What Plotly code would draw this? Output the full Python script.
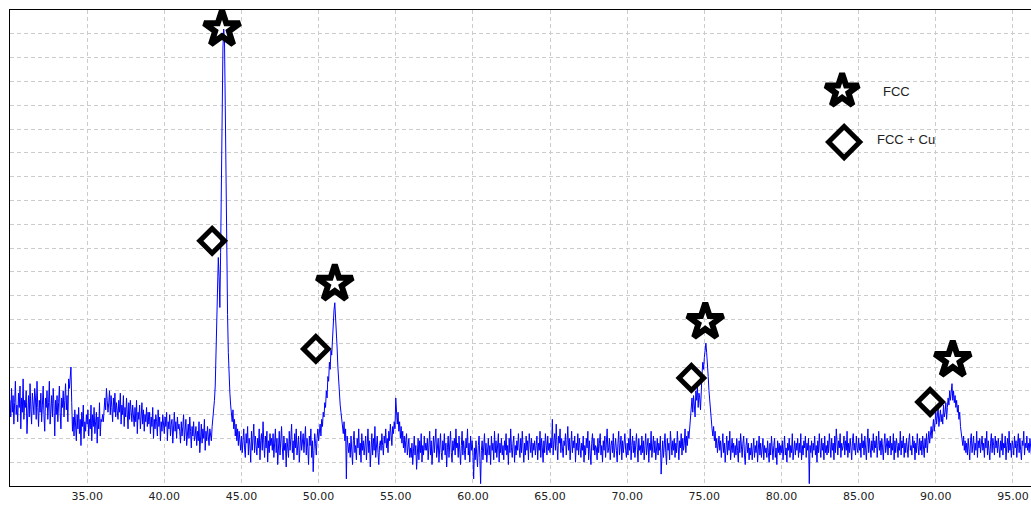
import numpy as np
import plotly.graph_objects as go

# 2-theta grid (step 0.05 deg, 30.00 .. 96.20)
two_theta_start = 30.0
two_theta_step = 0.05

# intensity (a.u.), one row per degree
intensity = [
    36,29,41,31,38,26,35,44,30,34,27,39,33,42,24,37,31,45,28,36,   # 30
    33,40,22,35,38,29,43,32,26,39,35,30,41,37,28,44,33,25,36,31,   # 31
    39,27,34,42,30,23,37,33,40,28,35,44,26,32,38,29,41,34,21,36,   # 32
    30,38,27,35,42,31,24,37,33,40,29,36,43,32,38,27,45,41,47,50,   # 33
    35,23,29,21,32,26,19,30,24,33,22,28,17,31,25,34,20,27,23,30,   # 34
    26,32,21,28,24,34,19,30,25,33,22,27,31,18,29,24,35,21,28,27,   # 35
    30,27,34,37,32,41,36,31,35,40,30,38,33,27,37,31,39,29,35,32,   # 36
    28,36,31,39,26,34,30,38,25,33,29,37,32,24,35,28,36,31,27,34,   # 37
    30,25,33,27,36,22,31,28,34,24,29,35,26,32,23,30,27,33,25,31,   # 38
    26,31,22,29,25,33,20,28,24,30,27,21,32,25,29,19,27,23,30,24,   # 39
    22,29,25,31,19,27,24,30,21,26,28,18,25,31,23,27,20,29,24,26,   # 40
    23,18,27,21,25,30,19,24,28,17,22,26,20,29,23,16,25,21,27,19,   # 41
    21,25,17,23,19,27,14,22,26,18,24,20,28,15,23,19,25,21,17,24,   # 42
    22,19,25,28,31,36,42,55,78,92,96,88,75,98,135,165,184,192,188,160,  # 43
    125,95,72,56,45,39,34,30,27,32,24,28,21,26,19,24,17,23,20,15,  # 44
    21,14,19,24,16,12,22,18,25,13,20,17,10,23,15,19,26,14,21,17,   # 45
    13,20,16,24,11,19,22,15,27,18,12,21,16,23,10,19,14,22,17,20,   # 46
    15,22,12,18,24,14,20,9,17,23,13,19,25,16,11,21,15,18,8,20,     # 47
    17,12,23,15,20,26,14,19,11,22,16,24,13,18,21,10,17,23,15,19,   # 48
    22,14,18,25,13,20,16,9,21,17,24,12,19,6,15,22,18,13,20,24,     # 49
    19,23,26,21,28,25,31,29,35,33,40,37,46,44,52,49,57,55,63,70,   # 50
    74,77,72,65,58,50,43,39,34,31,28,25,22,27,19,24,3,21,17,14,    # 51
    18,12,21,15,9,19,23,14,17,11,20,16,24,13,18,10,22,15,19,13,    # 52
    16,21,11,18,24,14,19,8,17,22,13,20,15,25,12,18,21,14,9,17,     # 53
    19,15,22,17,13,21,18,24,16,20,14,23,19,26,21,17,25,22,27,24,   # 54
    37,29,26,31,23,27,20,25,18,23,16,21,14,19,22,13,17,20,12,16,   # 55
    12,18,9,15,21,13,17,7,16,20,11,19,14,22,10,17,13,21,15,18,     # 56
    15,20,11,17,23,13,19,9,16,21,14,18,24,12,17,20,10,15,22,14,    # 57
    11,19,15,22,13,18,8,16,21,12,17,23,14,10,19,15,20,13,24,16,    # 58
    18,12,21,14,9,17,23,13,19,15,11,20,16,24,13,18,10,21,15,19,    # 59
    14,3,16,11,19,13,8,17,21,12,1,15,19,11,17,22,13,18,10,16,      # 60
    20,13,17,9,21,15,18,11,23,14,19,12,16,22,10,18,14,20,13,17,    # 61
    11,19,15,22,13,17,9,20,14,24,16,12,18,21,10,17,13,19,15,22,    # 62
    16,12,20,14,23,17,10,18,13,21,15,19,11,22,16,14,20,12,18,15,   # 63
    19,13,17,21,11,18,15,23,12,20,16,10,19,14,22,17,13,21,15,18,   # 64
    14,20,16,28,13,19,22,15,26,17,11,21,18,24,14,20,16,12,19,17,   # 65
    22,13,18,25,15,20,11,17,23,14,19,16,21,10,18,15,22,13,20,16,   # 66
    12,18,15,21,10,17,13,20,16,23,11,19,14,9,18,22,15,20,13,17,    # 67
    16,11,20,14,18,22,13,17,10,19,15,21,12,18,24,14,16,20,11,17,   # 68
    19,14,22,12,17,20,15,10,18,23,13,16,21,11,19,14,17,22,15,12,   # 69
    18,13,20,15,24,11,17,21,14,19,12,18,22,16,10,20,15,17,13,21,   # 70
    14,19,11,17,22,13,16,20,10,18,15,23,12,17,21,14,19,11,16,20,   # 71
    13,18,15,21,5,16,19,12,17,22,14,9,20,15,18,11,23,16,13,19,     # 72
    15,20,12,18,14,23,17,11,19,16,22,13,20,15,18,24,14,21,17,23,   # 73
    20,25,28,33,37,31,38,34,29,40,36,42,33,39,37,32,44,47,52,49,   # 74
    54,57,60,56,52,46,40,35,30,27,24,21,25,19,23,16,20,14,18,21,   # 75
    15,19,12,17,22,14,18,10,16,21,13,19,15,23,11,17,20,14,18,12,   # 76
    17,13,20,15,10,19,14,22,16,12,18,21,13,9,17,20,14,18,11,16,    # 77
    13,18,11,16,20,12,17,14,19,10,15,21,13,18,12,16,20,11,17,14,   # 78
    16,12,19,14,10,18,13,21,15,11,17,20,12,16,9,19,14,18,13,17,    # 79
    14,19,11,17,21,13,16,10,18,15,20,12,17,14,22,11,16,19,13,18,   # 80
    15,20,12,18,14,22,11,17,13,19,16,21,12,18,15,20,1,17,14,19,    # 81
    12,18,15,21,13,17,10,19,14,22,16,12,20,15,18,11,21,14,17,13,   # 82
    19,14,22,16,12,20,15,18,11,21,14,24,17,13,19,16,22,12,18,15,   # 83
    17,21,13,19,15,23,12,18,14,20,16,11,19,22,15,18,13,21,16,14,   # 84
    20,15,18,12,22,16,19,13,21,17,11,18,24,14,20,16,12,19,15,22,   # 85
    14,19,16,21,12,17,23,15,19,13,20,16,11,18,22,14,17,20,13,19,   # 86
    16,21,13,18,15,22,11,19,14,20,17,12,18,15,23,13,19,16,21,12,   # 87
    18,14,20,16,12,19,22,15,17,13,21,16,19,11,18,14,22,17,13,20,   # 88
    15,19,13,21,17,12,20,16,22,14,19,23,18,21,25,20,24,28,23,27,   # 89
    31,26,29,33,25,28,32,27,30,26,34,29,31,35,28,33,37,34,40,36,   # 90
    39,43,36,40,35,38,33,36,31,34,28,31,25,22,19,17,21,15,19,14,   # 91
    18,13,20,16,11,19,22,14,17,21,13,18,15,23,12,19,16,20,14,17,   # 92
    21,15,18,12,20,16,23,13,19,15,11,18,22,14,20,17,13,21,16,19,   # 93
    14,20,17,12,19,15,22,13,18,16,21,11,17,20,14,23,15,18,12,19,   # 94
    17,13,21,16,19,12,18,22,14,20,15,11,19,17,23,13,18,16,21,15,   # 95
    18,14,20,16,13,                                                # 96
]
two_theta = two_theta_start + two_theta_step * np.arange(len(intensity))

# peak markers
fcc_x = [43.74, 51.05, 75.06, 91.10]
fcc_y = [192, 85, 69, 53]
fcc_cu_x = [43.10, 49.82, 74.16, 89.63]
fcc_cu_y = [103, 57.6, 45.4, 35.3]

# legend
legend_labels = ["FCC", "FCC + Cu"]
legend_sym_x = [83.93, 84.06]
legend_sym_y = [166, 144.5]
legend_txt_x = [87.46, 88.07]
legend_txt_y = [165.7, 145.8]

x_ticks = [35, 40, 45, 50, 55, 60, 65, 70, 75, 80, 85, 90, 95]

fig = go.Figure()
fig.add_trace(go.Scatter(x=two_theta, y=intensity, mode="lines",
                         line=dict(color="#0000FF", width=1), hoverinfo="skip"))

def marker_trace(xs, ys, symbol, size, width):
    return go.Scatter(x=xs, y=ys, mode="markers", cliponaxis=False, hoverinfo="skip",
                      marker=dict(symbol=symbol, size=size, color="#000000", opacity=1,
                                  line=dict(width=width, color="#000000")))

fig.add_trace(marker_trace(fcc_x, fcc_y, "star-open", 27, 6))
fig.add_trace(marker_trace([legend_sym_x[0]], [legend_sym_y[0]], "star-open", 25, 6))
fig.add_trace(marker_trace(fcc_cu_x, fcc_cu_y, "diamond-open", 19, 5))
fig.add_trace(marker_trace([legend_sym_x[1]], [legend_sym_y[1]], "diamond-open", 24, 5))

for lx, ly, lt in zip(legend_txt_x, legend_txt_y, legend_labels):
    fig.add_annotation(x=lx, y=ly, text=lt, showarrow=False,
                       font=dict(family="Liberation Sans", size=13, color="#222"))

fig.update_layout(
    width=1031, height=509,
    margin=dict(l=10, r=0, t=10, b=23),
    paper_bgcolor="white", plot_bgcolor="white",
    showlegend=False,
)
fig.update_xaxes(range=[30.0, 96.17], tickvals=x_ticks,
                 ticktext=[f"{v:.2f}" for v in x_ticks],
                 showgrid=True, gridcolor="#cccccc", griddash="4px,3px", gridwidth=1,
                 showline=True, linecolor="black", linewidth=1, mirror=True,
                 ticks="", zeroline=False,
                 tickfont=dict(family="DejaVu Sans", size=11, color="#222"))
fig.update_yaxes(range=[0, 200], dtick=10, showticklabels=False,
                 showgrid=True, gridcolor="#cccccc", griddash="4px,3px", gridwidth=1,
                 showline=True, linecolor="black", linewidth=1,
                 ticks="", zeroline=False)

# remove the default 8px page margin so the 1031x509 figure fills the window exactly
fig.write_html("out.html",
               config={"displayModeBar": False, "staticPlot": True},
               post_script="document.body.style.margin='0';document.body.style.overflow='hidden';")
